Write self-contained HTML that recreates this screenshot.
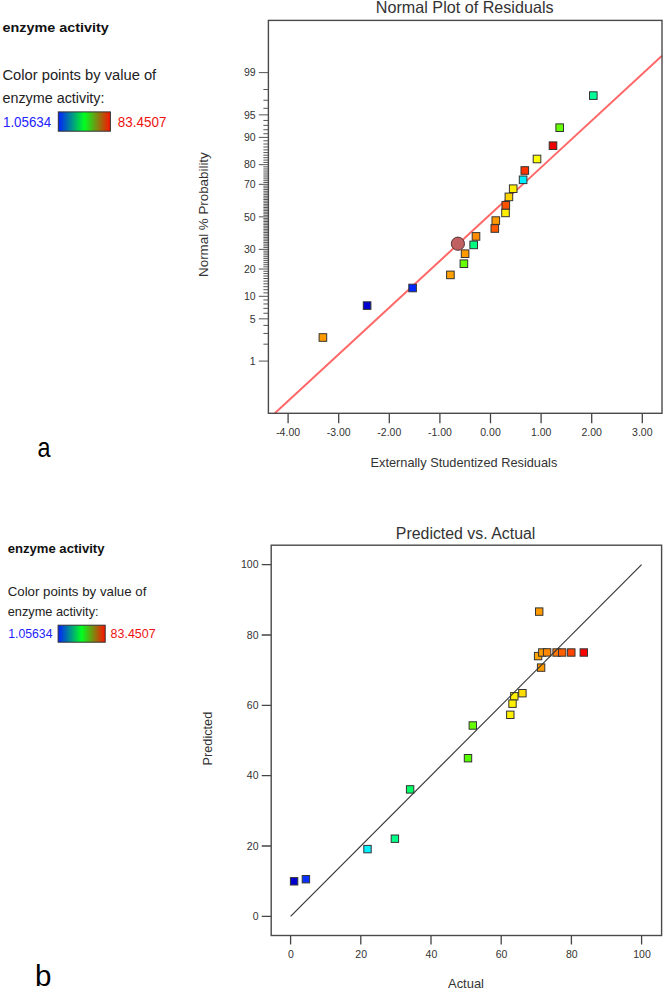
<!DOCTYPE html>
<html><head><meta charset="utf-8"><title>Residual plots</title>
<style>html,body{margin:0;padding:0;background:#fff;} svg{display:block;}</style></head>
<body><svg width="664" height="990" viewBox="0 0 664 990"><defs><linearGradient id="grad" x1="0" x2="1" y1="0" y2="0"><stop offset="0" stop-color="#0020FF"/><stop offset="0.5" stop-color="#00FF20"/><stop offset="1" stop-color="#FF1000"/></linearGradient></defs>
<rect width="664" height="990" fill="#fff"/>
<text x="464.7" y="13.3" font-family="Liberation Sans, sans-serif" font-size="16.5" fill="#333" text-anchor="middle" textLength="177.7" lengthAdjust="spacingAndGlyphs">Normal Plot of Residuals</text>
<text x="255.6" y="364.83" font-family="Liberation Sans, sans-serif" font-size="10.5" fill="#333" text-anchor="end">1</text>
<text x="255.6" y="322.58" font-family="Liberation Sans, sans-serif" font-size="10.5" fill="#333" text-anchor="end">5</text>
<text x="255.6" y="300.06" font-family="Liberation Sans, sans-serif" font-size="10.5" fill="#333" text-anchor="end">10</text>
<text x="255.6" y="272.78" font-family="Liberation Sans, sans-serif" font-size="10.5" fill="#333" text-anchor="end">20</text>
<text x="255.6" y="253.11" font-family="Liberation Sans, sans-serif" font-size="10.5" fill="#333" text-anchor="end">30</text>
<text x="255.6" y="220.60" font-family="Liberation Sans, sans-serif" font-size="10.5" fill="#333" text-anchor="end">50</text>
<text x="255.6" y="188.09" font-family="Liberation Sans, sans-serif" font-size="10.5" fill="#333" text-anchor="end">70</text>
<text x="255.6" y="168.42" font-family="Liberation Sans, sans-serif" font-size="10.5" fill="#333" text-anchor="end">80</text>
<text x="255.6" y="141.14" font-family="Liberation Sans, sans-serif" font-size="10.5" fill="#333" text-anchor="end">90</text>
<text x="255.6" y="118.62" font-family="Liberation Sans, sans-serif" font-size="10.5" fill="#333" text-anchor="end">95</text>
<text x="255.6" y="76.37" font-family="Liberation Sans, sans-serif" font-size="10.5" fill="#333" text-anchor="end">99</text>
<path d="M258.8 361.08H268.4 M263.4 344.18H268.4 M263.4 333.46H268.4 M263.4 325.39H268.4 M258.8 318.83H268.4 M263.4 313.25H268.4 M263.4 308.35H268.4 M263.4 303.96H268.4 M263.4 299.98H268.4 M258.8 296.31H268.4 M263.4 292.89H268.4 M263.4 289.70H268.4 M263.4 286.69H268.4 M263.4 283.83H268.4 M263.4 281.11H268.4 M263.4 278.51H268.4 M263.4 276.01H268.4 M263.4 273.60H268.4 M263.4 271.28H268.4 M258.8 269.03H268.4 M263.4 266.85H268.4 M263.4 264.73H268.4 M263.4 262.66H268.4 M263.4 260.64H268.4 M263.4 258.67H268.4 M263.4 256.74H268.4 M263.4 254.84H268.4 M263.4 252.99H268.4 M263.4 251.16H268.4 M258.8 249.36H268.4 M263.4 247.59H268.4 M263.4 245.85H268.4 M263.4 244.12H268.4 M263.4 242.42H268.4 M263.4 240.74H268.4 M263.4 239.07H268.4 M263.4 237.42H268.4 M263.4 235.79H268.4 M263.4 234.17H268.4 M263.4 232.56H268.4 M263.4 230.96H268.4 M263.4 229.37H268.4 M263.4 227.79H268.4 M263.4 226.21H268.4 M263.4 224.64H268.4 M263.4 223.08H268.4 M263.4 221.52H268.4 M263.4 219.96H268.4 M263.4 218.40H268.4 M258.8 216.85H268.4 M263.4 215.30H268.4 M263.4 213.74H268.4 M263.4 212.18H268.4 M263.4 210.62H268.4 M263.4 209.06H268.4 M263.4 207.49H268.4 M263.4 205.91H268.4 M263.4 204.33H268.4 M263.4 202.74H268.4 M263.4 201.14H268.4 M263.4 199.53H268.4 M263.4 197.91H268.4 M263.4 196.28H268.4 M263.4 194.63H268.4 M263.4 192.96H268.4 M263.4 191.28H268.4 M263.4 189.58H268.4 M263.4 187.85H268.4 M263.4 186.11H268.4 M258.8 184.34H268.4 M263.4 182.54H268.4 M263.4 180.71H268.4 M263.4 178.86H268.4 M263.4 176.96H268.4 M263.4 175.03H268.4 M263.4 173.06H268.4 M263.4 171.04H268.4 M263.4 168.97H268.4 M263.4 166.85H268.4 M258.8 164.67H268.4 M263.4 162.42H268.4 M263.4 160.10H268.4 M263.4 157.69H268.4 M263.4 155.19H268.4 M263.4 152.59H268.4 M263.4 149.87H268.4 M263.4 147.01H268.4 M263.4 144.00H268.4 M263.4 140.81H268.4 M258.8 137.39H268.4 M263.4 133.72H268.4 M263.4 129.74H268.4 M263.4 125.35H268.4 M263.4 120.45H268.4 M258.8 114.87H268.4 M263.4 108.31H268.4 M263.4 100.24H268.4 M263.4 89.52H268.4 M258.8 72.62H268.4" stroke="#555" stroke-width="1" fill="none"/>
<text x="288.10" y="436.3" font-family="Liberation Sans, sans-serif" font-size="10.5" fill="#333" text-anchor="middle">-4.00</text>
<text x="338.70" y="436.3" font-family="Liberation Sans, sans-serif" font-size="10.5" fill="#333" text-anchor="middle">-3.00</text>
<text x="389.30" y="436.3" font-family="Liberation Sans, sans-serif" font-size="10.5" fill="#333" text-anchor="middle">-2.00</text>
<text x="439.90" y="436.3" font-family="Liberation Sans, sans-serif" font-size="10.5" fill="#333" text-anchor="middle">-1.00</text>
<text x="490.50" y="436.3" font-family="Liberation Sans, sans-serif" font-size="10.5" fill="#333" text-anchor="middle">0.00</text>
<text x="541.10" y="436.3" font-family="Liberation Sans, sans-serif" font-size="10.5" fill="#333" text-anchor="middle">1.00</text>
<text x="591.70" y="436.3" font-family="Liberation Sans, sans-serif" font-size="10.5" fill="#333" text-anchor="middle">2.00</text>
<text x="642.30" y="436.3" font-family="Liberation Sans, sans-serif" font-size="10.5" fill="#333" text-anchor="middle">3.00</text>
<path d="M288.10 413.3V423.3 M338.70 413.3V423.3 M389.30 413.3V423.3 M439.90 413.3V423.3 M490.50 413.3V423.3 M541.10 413.3V423.3 M591.70 413.3V423.3 M642.30 413.3V423.3" stroke="#444" stroke-width="1.3" fill="none"/>
<text x="463.9" y="467.1" font-family="Liberation Sans, sans-serif" font-size="13.5" fill="#333" text-anchor="middle" textLength="186.8" lengthAdjust="spacingAndGlyphs">Externally Studentized Residuals</text>
<text transform="translate(208.3 214.6) rotate(-90)" font-family="Liberation Sans, sans-serif" font-size="13.5" fill="#333" text-anchor="middle" textLength="124.7" lengthAdjust="spacingAndGlyphs">Normal % Probability</text>
<line x1="274.8" y1="413.3" x2="662.0" y2="55.8" stroke="#FF6868" stroke-width="2"/>
<rect x="268.4" y="20.4" width="393.60" height="392.90" fill="none" stroke="#4a4a4a" stroke-width="1.4"/>
<rect x="319.10" y="333.70" width="7.6" height="7.6" fill="#FF9900" stroke="#333" stroke-width="1"/>
<rect x="363.30" y="301.80" width="7.6" height="7.6" fill="#0000D0" stroke="#333" stroke-width="1"/>
<rect x="408.80" y="284.20" width="7.6" height="7.6" fill="#0028FF" stroke="#333" stroke-width="1"/>
<rect x="446.60" y="271.10" width="7.6" height="7.6" fill="#FFA000" stroke="#333" stroke-width="1"/>
<rect x="460.10" y="259.90" width="7.6" height="7.6" fill="#66FF00" stroke="#333" stroke-width="1"/>
<rect x="461.30" y="249.90" width="7.6" height="7.6" fill="#FF9900" stroke="#333" stroke-width="1"/>
<rect x="469.90" y="241.10" width="7.6" height="7.6" fill="#00FF80" stroke="#333" stroke-width="1"/>
<rect x="472.20" y="232.60" width="7.6" height="7.6" fill="#FF8C00" stroke="#333" stroke-width="1"/>
<rect x="491.00" y="224.70" width="7.6" height="7.6" fill="#FF5A00" stroke="#333" stroke-width="1"/>
<rect x="492.00" y="216.80" width="7.6" height="7.6" fill="#FF9900" stroke="#333" stroke-width="1"/>
<rect x="501.70" y="209.10" width="7.6" height="7.6" fill="#FFEE00" stroke="#333" stroke-width="1"/>
<rect x="502.00" y="201.50" width="7.6" height="7.6" fill="#FF5000" stroke="#333" stroke-width="1"/>
<rect x="505.10" y="193.10" width="7.6" height="7.6" fill="#FFD400" stroke="#333" stroke-width="1"/>
<rect x="509.40" y="184.90" width="7.6" height="7.6" fill="#FFEE00" stroke="#333" stroke-width="1"/>
<rect x="519.30" y="176.00" width="7.6" height="7.6" fill="#00F0FF" stroke="#333" stroke-width="1"/>
<rect x="521.00" y="166.70" width="7.6" height="7.6" fill="#FF3300" stroke="#333" stroke-width="1"/>
<rect x="533.20" y="155.20" width="7.6" height="7.6" fill="#FFFF00" stroke="#333" stroke-width="1"/>
<rect x="549.20" y="141.90" width="7.6" height="7.6" fill="#EE0000" stroke="#333" stroke-width="1"/>
<rect x="555.90" y="123.90" width="7.6" height="7.6" fill="#66FF00" stroke="#333" stroke-width="1"/>
<rect x="589.50" y="91.80" width="7.6" height="7.6" fill="#00FF99" stroke="#333" stroke-width="1"/>
<circle cx="457.9" cy="243.7" r="6.6" fill="#C06060" stroke="#553333" stroke-width="1"/>
<text x="465.6" y="538.6" font-family="Liberation Sans, sans-serif" font-size="16" fill="#333" text-anchor="middle" textLength="139.5" lengthAdjust="spacingAndGlyphs">Predicted vs. Actual</text>
<text x="258.5" y="920.05" font-family="Liberation Sans, sans-serif" font-size="10.5" fill="#333" text-anchor="end">0</text>
<text x="291.00" y="958.4" font-family="Liberation Sans, sans-serif" font-size="10.5" fill="#333" text-anchor="middle">0</text>
<text x="258.5" y="849.73" font-family="Liberation Sans, sans-serif" font-size="10.5" fill="#333" text-anchor="end">20</text>
<text x="361.20" y="958.4" font-family="Liberation Sans, sans-serif" font-size="10.5" fill="#333" text-anchor="middle">20</text>
<text x="258.5" y="779.41" font-family="Liberation Sans, sans-serif" font-size="10.5" fill="#333" text-anchor="end">40</text>
<text x="431.40" y="958.4" font-family="Liberation Sans, sans-serif" font-size="10.5" fill="#333" text-anchor="middle">40</text>
<text x="258.5" y="709.09" font-family="Liberation Sans, sans-serif" font-size="10.5" fill="#333" text-anchor="end">60</text>
<text x="501.60" y="958.4" font-family="Liberation Sans, sans-serif" font-size="10.5" fill="#333" text-anchor="middle">60</text>
<text x="258.5" y="638.77" font-family="Liberation Sans, sans-serif" font-size="10.5" fill="#333" text-anchor="end">80</text>
<text x="571.80" y="958.4" font-family="Liberation Sans, sans-serif" font-size="10.5" fill="#333" text-anchor="middle">80</text>
<text x="258.5" y="568.45" font-family="Liberation Sans, sans-serif" font-size="10.5" fill="#333" text-anchor="end">100</text>
<text x="642.00" y="958.4" font-family="Liberation Sans, sans-serif" font-size="10.5" fill="#333" text-anchor="middle">100</text>
<path d="M261.7 916.30H271.2 M290.60 935.5V944.5 M261.7 845.98H271.2 M360.80 935.5V944.5 M261.7 775.66H271.2 M431.00 935.5V944.5 M261.7 705.34H271.2 M501.20 935.5V944.5 M261.7 635.02H271.2 M571.40 935.5V944.5 M261.7 564.70H271.2 M641.60 935.5V944.5" stroke="#444" stroke-width="1.3" fill="none"/>
<text x="466" y="987.9" font-family="Liberation Sans, sans-serif" font-size="13" fill="#333" text-anchor="middle" textLength="36" lengthAdjust="spacingAndGlyphs">Actual</text>
<text transform="translate(212.3 738.6) rotate(-90)" font-family="Liberation Sans, sans-serif" font-size="13" fill="#333" text-anchor="middle" textLength="53.7" lengthAdjust="spacingAndGlyphs">Predicted</text>
<rect x="271.2" y="545.2" width="390.40" height="390.30" fill="none" stroke="#4a4a4a" stroke-width="1.4"/>
<rect x="290.40" y="877.60" width="7.4" height="7.4" fill="#0000D0" stroke="#333" stroke-width="1"/>
<rect x="302.20" y="875.50" width="7.4" height="7.4" fill="#0A30FF" stroke="#333" stroke-width="1"/>
<rect x="363.80" y="845.40" width="7.4" height="7.4" fill="#00F0FF" stroke="#333" stroke-width="1"/>
<rect x="391.20" y="835.00" width="7.4" height="7.4" fill="#00FF88" stroke="#333" stroke-width="1"/>
<rect x="406.40" y="785.70" width="7.4" height="7.4" fill="#00FF66" stroke="#333" stroke-width="1"/>
<rect x="464.30" y="754.50" width="7.4" height="7.4" fill="#55FF00" stroke="#333" stroke-width="1"/>
<rect x="469.10" y="721.80" width="7.4" height="7.4" fill="#66FF00" stroke="#333" stroke-width="1"/>
<rect x="506.60" y="711.10" width="7.4" height="7.4" fill="#FFF000" stroke="#333" stroke-width="1"/>
<rect x="510.60" y="692.60" width="7.4" height="7.4" fill="#FFF000" stroke="#333" stroke-width="1"/>
<rect x="508.80" y="700.00" width="7.4" height="7.4" fill="#FFF000" stroke="#333" stroke-width="1"/>
<rect x="518.70" y="689.50" width="7.4" height="7.4" fill="#FFDD00" stroke="#333" stroke-width="1"/>
<rect x="534.40" y="652.40" width="7.4" height="7.4" fill="#FFA500" stroke="#333" stroke-width="1"/>
<rect x="537.40" y="663.90" width="7.4" height="7.4" fill="#FF9900" stroke="#333" stroke-width="1"/>
<rect x="538.60" y="648.80" width="7.4" height="7.4" fill="#FF9900" stroke="#333" stroke-width="1"/>
<rect x="543.40" y="648.70" width="7.4" height="7.4" fill="#FF8800" stroke="#333" stroke-width="1"/>
<rect x="552.90" y="648.80" width="7.4" height="7.4" fill="#FF7700" stroke="#333" stroke-width="1"/>
<rect x="558.50" y="648.80" width="7.4" height="7.4" fill="#FF5F00" stroke="#333" stroke-width="1"/>
<rect x="567.60" y="648.80" width="7.4" height="7.4" fill="#FF4400" stroke="#333" stroke-width="1"/>
<rect x="580.10" y="648.80" width="7.4" height="7.4" fill="#FF0000" stroke="#333" stroke-width="1"/>
<rect x="535.50" y="607.90" width="7.4" height="7.4" fill="#FF9900" stroke="#333" stroke-width="1"/>
<line x1="290.60" y1="916.30" x2="641.60" y2="564.70" stroke="#333" stroke-width="1.15"/>
<text x="2.5" y="31.8" font-family="Liberation Sans, sans-serif" font-weight="bold" font-size="13" fill="#111" textLength="106.3" lengthAdjust="spacingAndGlyphs">enzyme activity</text>
<text x="2.5" y="80.4" font-family="Liberation Sans, sans-serif" font-size="14" fill="#222" textLength="153.7" lengthAdjust="spacingAndGlyphs">Color points by value of</text>
<text x="2.5" y="103.4" font-family="Liberation Sans, sans-serif" font-size="14" fill="#222" textLength="102" lengthAdjust="spacingAndGlyphs">enzyme activity:</text>
<text x="3" y="126.5" font-family="Liberation Sans, sans-serif" font-size="14" fill="#2222FF" textLength="48.2" lengthAdjust="spacingAndGlyphs">1.05634</text>
<rect x="58.3" y="111.9" width="52.1" height="19.3" fill="url(#grad)" stroke="#333" stroke-width="1"/>
<text x="117.8" y="126.5" font-family="Liberation Sans, sans-serif" font-size="14" fill="#EE1111" textLength="48.6" lengthAdjust="spacingAndGlyphs">83.4507</text>
<text x="7.7" y="553" font-family="Liberation Sans, sans-serif" font-weight="bold" font-size="12" fill="#111" textLength="96.8" lengthAdjust="spacingAndGlyphs">enzyme activity</text>
<text x="7.7" y="596" font-family="Liberation Sans, sans-serif" font-size="13" fill="#222" textLength="138.7" lengthAdjust="spacingAndGlyphs">Color points by value of</text>
<text x="7.7" y="615.8" font-family="Liberation Sans, sans-serif" font-size="13" fill="#222" textLength="90.9" lengthAdjust="spacingAndGlyphs">enzyme activity:</text>
<text x="8.2" y="637.5" font-family="Liberation Sans, sans-serif" font-size="13" fill="#2222FF" textLength="44.3" lengthAdjust="spacingAndGlyphs">1.05634</text>
<rect x="58.1" y="625.2" width="47.1" height="17" fill="url(#grad)" stroke="#333" stroke-width="1"/>
<text x="110.6" y="637.5" font-family="Liberation Sans, sans-serif" font-size="13" fill="#EE1111" textLength="45.1" lengthAdjust="spacingAndGlyphs">83.4507</text>
<text x="37.5" y="457" font-family="Liberation Sans, sans-serif" font-size="28" fill="#000" textLength="13" lengthAdjust="spacingAndGlyphs">a</text>
<text x="35" y="985.7" font-family="Liberation Sans, sans-serif" font-size="29.5" fill="#000">b</text>
</svg></body></html>
